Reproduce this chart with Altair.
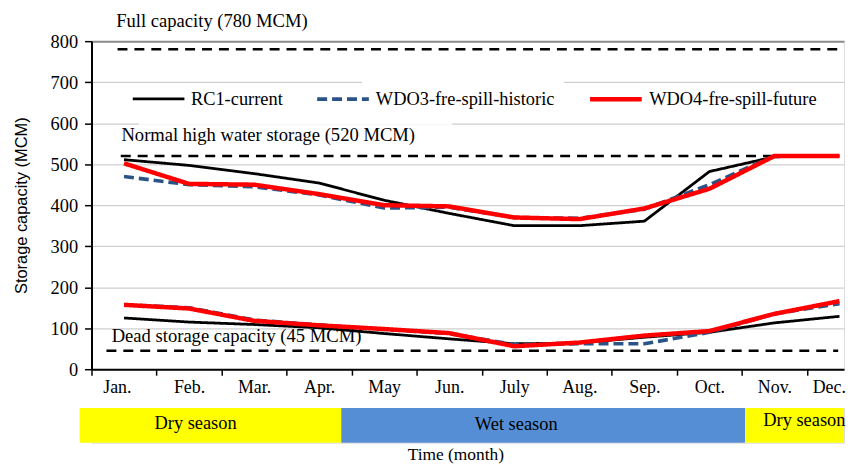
import altair as alt
import pandas as pd

months = ["Jan.", "Feb.", "Mar.", "Apr.", "May", "Jun.", "July", "Aug.", "Sep.", "Oct.", "Nov.", "Dec."]
month_idx = list(range(1, 13))
series = ["RC1-current", "WDO3-fre-spill-historic", "WDO4-fre-spill-future"]
series_colors = ["#000000", "#2A5488", "#FF0000"]

rc1_upper = [511, 497, 477, 454, 412, 380, 350, 350, 361, 482, 518, 520]
wdo3_upper = [470, 450, 445, 425, 393, 395, 370, 368, 390, 450, 520, 520]
wdo4_upper = [502, 452, 450, 427, 400, 397, 370, 366, 392, 440, 520, 520]
rc1_lower = [125, 115, 109, 101, 87, 74, 62, 64, 78, 90, 113, 129]
wdo3_lower = [157, 150, 120, 108, 97, 87, 60, 62, 62, 90, 135, 160]
wdo4_lower = [157, 148, 118, 107, 98, 88, 56, 65, 82, 93, 135, 166]

ref_labels = ["Full capacity (780 MCM)", "Normal high water storage (520 MCM)", "Dead storage capacity (45 MCM)"]
ref_values = [780, 520, 45]
ref_start = [0.9, 0.95, 0.73]
ref_end = [11.98, 11.98, 11.98]
ref_label_x = [0.88, 0.96, 0.81]
ref_label_y = [848.5, 570, 82]

# white text-box areas of the original that hide parts of the gridlines
mask_x0 = [4.66, 1.23]
mask_x1 = [7.76, 6.04]
mask_y0 = [696, 596]
mask_y1 = [704, 604]

season_names = ["Dry season", "Wet season", "Dry season"]
season_start = [0.317, 4.34, 10.55]
season_end = [4.34, 10.55, 12.07]
season_colors = ["#FFFF00", "#558ED5", "#FFFF00"]
season_label_x = [2.1, 7.03, 11.46]
season_label_top = [15, 16, 12]

y_ticks = list(range(0, 801, 100))

SERIF = "Liberation Serif"
SANS = "Liberation Sans"
XDOM = [0.5, 12.07]
W = 757

rows = []
for s, up, lo in [(series[0], rc1_upper, rc1_lower), (series[1], wdo3_upper, wdo3_lower), (series[2], wdo4_upper, wdo4_lower)]:
    for m, v in zip(month_idx, up):
        rows.append({"m": m, "v": v, "series": s, "level": "upper"})
    for m, v in zip(month_idx, lo):
        rows.append({"m": m, "v": v, "series": s, "level": "lower"})
df_lines = pd.DataFrame(rows)

df_ref = pd.DataFrame({"label": ref_labels, "v": ref_values, "x0": ref_start, "x1": ref_end,
                       "lx": ref_label_x, "ly": ref_label_y})
df_mask = pd.DataFrame({"x0": mask_x0, "x1": mask_x1, "y0": mask_y0, "y1": mask_y1})
df_season = pd.DataFrame({"name": season_names, "x0": season_start, "x1": season_end,
                          "c": season_colors, "lx": season_label_x, "ly": season_label_top})

month_expr = "[" + ",".join("'%s'" % m for m in months) + "][floor(datum.value)]"

x_axis = alt.Axis(values=[i + 0.5 for i in range(12)], labelExpr=month_expr,
                  labelOffset={"condition": [{"test": "datum.value < 1", "value": 25.5},
                                             {"test": "datum.value > 11", "value": 22}],
                               "value": 32.7},
                  title=None, grid=False, labelFont=SERIF, labelFontSize=18, labelColor="black",
                  labelFlush=False, labelOverlap=False, labelPadding=3,
                  domainColor="black", domainWidth=2, tickColor="black", tickWidth=1.5, tickSize=6)
xscale = alt.Scale(domain=XDOM, nice=False, zero=False)

y_axis = alt.Axis(values=y_ticks, title="Storage capacity (MCM)", titleFont=SANS, titleFontSize=16.5,
                  titleFontWeight="normal", titleColor="black", titlePadding=21,
                  labelFont=SERIF, labelFontSize=18.5, labelColor="black", labelPadding=7,
                  domainColor="black", domainWidth=2, tickColor="black", tickWidth=1.5, tickSize=7,
                  gridColor={"condition": {"test": "datum.value == 800", "value": "#8a8a8a"}, "value": "#cfcfcf"},
                  gridWidth={"condition": {"test": "datum.value == 800", "value": 2}, "value": 1.3})
yscale = alt.Scale(domain=[0, 800], nice=False)

leg = alt.Legend(orient="none", legendX=40, legendY=30, direction="horizontal", title=None,
                 symbolType="stroke", symbolSize=2700, labelFont=SERIF, labelFontSize=18.5,
                 labelColor="black", labelOffset=5, columnPadding=26, symbolStrokeWidth=4,
                 labelLimit=0)

masks = alt.Chart(df_mask).mark_rect(color="white").encode(
    x=alt.X("x0:Q", scale=xscale), x2="x1:Q", y=alt.Y("y0:Q", scale=yscale), y2="y1:Q"
)

lines = alt.Chart(df_lines).mark_line().encode(
    x=alt.X("m:Q", scale=xscale, axis=x_axis),
    y=alt.Y("v:Q", scale=yscale, axis=y_axis),
    color=alt.Color("series:N", scale=alt.Scale(domain=series, range=series_colors), legend=leg),
    strokeDash=alt.StrokeDash("series:N", scale=alt.Scale(domain=series, range=[[1, 0], [10, 5], [1, 0]]), legend=leg),
    strokeWidth=alt.StrokeWidth("series:N", scale=alt.Scale(domain=series, range=[2.8, 4.5, 4.2]), legend=leg),
    detail="level:N",
    order="m:Q",
)

refs = alt.Chart(df_ref).mark_rule(color="black", strokeWidth=2.5, strokeDash=[10, 7]).encode(
    x=alt.X("x0:Q", scale=xscale), x2="x1:Q", y=alt.Y("v:Q", scale=yscale)
)
ref_text = alt.Chart(df_ref).mark_text(align="left", baseline="middle", font=SERIF, fontSize=18.7,
                                       color="black").encode(
    x=alt.X("lx:Q", scale=xscale), y=alt.Y("ly:Q", scale=yscale), text="label:N"
)

main = alt.layer(masks, refs, ref_text, lines).properties(width=W, height=330)

s_axis = alt.Axis(title="Time (month)", domain=False, ticks=False, labels=False, grid=False,
                  titleFont=SERIF, titleFontSize=17.5, titleFontWeight="normal", titleColor="black",
                  titleX=366, titlePadding=3)
s_rect = alt.Chart(df_season).mark_rect().encode(
    x=alt.X("x0:Q", scale=xscale, axis=s_axis), x2="x1:Q",
    y=alt.value(0), y2=alt.value(35),
    color=alt.Color("c:N", scale=None),
)
s_text = alt.Chart(df_season).mark_text(align="center", baseline="middle", font=SERIF, fontSize=18.5,
                                        color="black").encode(
    x=alt.X("lx:Q", scale=xscale, axis=s_axis), y=alt.Y("ly:Q", scale=None), text="name:N"
)
season = alt.layer(s_rect, s_text).properties(width=W, height=35)

chart = alt.vconcat(main, season, spacing=10).properties(
    padding={"left": 4, "top": 2, "right": 0, "bottom": 0}
).configure_view(stroke=None).configure(background="white")

chart.save("out.html", embed_options={"renderer": "svg", "actions": False})
